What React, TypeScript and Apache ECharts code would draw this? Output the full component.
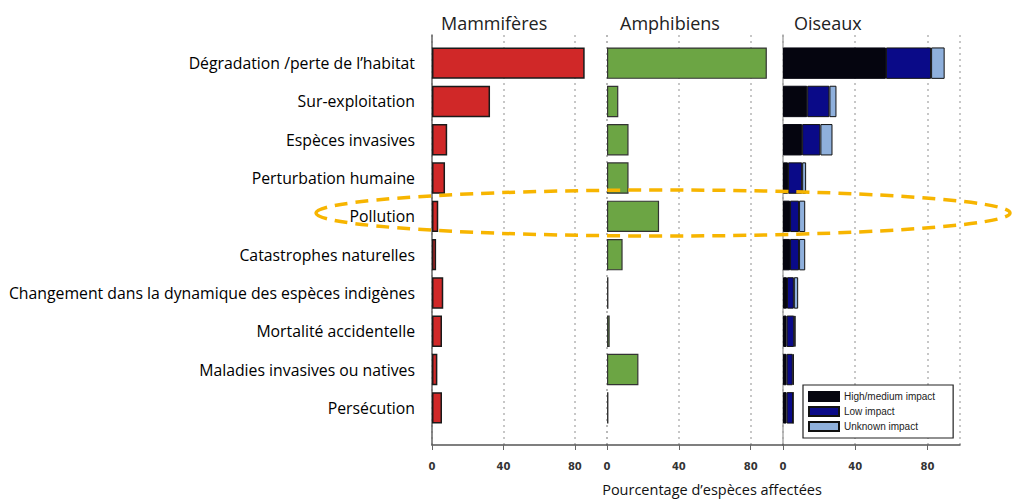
import React, { useEffect, useRef } from "react";
import * as echarts from "echarts";

const categories = [
  "Dégradation /perte de l’habitat",
  "Sur-exploitation",
  "Espèces invasives",
  "Perturbation humaine",
  "Pollution",
  "Catastrophes naturelles",
  "Changement dans la dynamique des espèces indigènes",
  "Mortalité accidentelle",
  "Maladies invasives ou natives",
  "Persécution",
];
const panelTitles = ["Mammifères", "Amphibiens", "Oiseaux"];
const mammiferes = [85.5, 32.5, 8.5, 7.3, 3.5, 2.3, 6.3, 5.6, 3, 5.6];
const amphibiens = [89, 6.3, 12, 12, 29, 8.7, 0.8, 1.5, 17.5, 0.8];
const oiseauxHigh = [57, 13.4, 10.6, 2.8, 3.9, 3.9, 2.2, 2, 2, 2];
const oiseauxLow = [25, 12.3, 10.1, 7.8, 5, 5, 3.8, 4.2, 3.4, 3.6];
const oiseauxUnknown = [7.5, 3.9, 6.7, 2.2, 3.4, 3.4, 2.4, 0.8, 0.6, 0];
const birdSeriesNames = ["High/medium impact", "Low impact", "Unknown impact"];
const xTicksMax = 98;
const xTickInterval = 40;
const axisTitle = "Pourcentage d’espèces affectées";

const FONT = "'Open Sans', sans-serif";

export default function App() {
  const ref = useRef<HTMLDivElement>(null);
  useEffect(() => {
    if (!ref.current) return;
    const chart = echarts.init(ref.current, null, { renderer: "svg" });
    const lefts = [432, 607, 783];
    const widths = [175, 176, 177];
    const grids: any[] = [];
    const xAxes: any[] = [];
    const yAxes: any[] = [];
    for (let i = 0; i < 3; i++) {
      grids.push({ left: lefts[i], width: widths[i], top: 35, height: 410 });
      xAxes.push({
        gridIndex: i,
        type: "value",
        min: 0,
        max: xTicksMax,
        interval: xTickInterval,
        axisLine: { show: true, lineStyle: { color: "#555", width: 1.5 } },
        axisTick: { show: true, length: 5, lineStyle: { color: "#666" } },
        axisLabel: {
          showMaxLabel: false,
          formatter: (v: number) => (v === xTicksMax ? "" : String(v)),
          fontSize: 10,
          fontWeight: "bold",
          color: "#333",
          margin: 16,
          fontFamily: "DejaVu Sans, sans-serif",
        },
        splitLine: {
          show: true,
          lineStyle: { color: "#b5b5b5", type: [2, 4], width: 1.5 },
        },
      });
      yAxes.push({
        gridIndex: i,
        type: "value",
        min: 0,
        max: 1,
        position: i === 2 ? "right" : "left",
        show: i !== 1,
        axisLine: {
          show: true,
          lineStyle: { color: i === 0 ? "#666" : "#aaa", width: 1.5 },
        },
        axisTick: { show: false },
        axisLabel: { show: false },
        splitLine: { show: false },
      });
    }
    for (let i = 0; i < 3; i++) {
      grids.push({ left: lefts[i], width: widths[i], top: 44, height: 383 });
      xAxes.push({
        gridIndex: 3 + i,
        type: "value",
        min: 0,
        max: xTicksMax,
        show: false,
      });
      yAxes.push({
        gridIndex: 3 + i,
        type: "category",
        inverse: true,
        data: categories,
        show: i === 0,
        axisLine: { show: false },
        axisTick: { show: false },
        splitLine: { show: false },
        axisLabel: {
          show: i === 0,
          margin: 17,
          fontSize: 15.8,
          color: "#000",
          fontFamily: FONT,
        },
      });
    }
    const border = { borderColor: "#1a1a1a", borderWidth: 1.5 };
    const option: any = {
      animation: false,
      backgroundColor: "#fff",
      title: [
        ...panelTitles.map((t, i) => ({
          text: t,
          left: [436, 615, 789][i],
          top: 9,
          textStyle: {
            fontSize: 18,
            fontWeight: "normal",
            color: "#222",
            fontFamily: "'Open Sans', sans-serif",
          },
        })),
        {
          text: axisTitle,
          left: 707,
          textAlign: "center",
          top: 477,
          textStyle: {
            fontSize: 14.5,
            fontWeight: "normal",
            color: "#111",
            fontFamily: FONT,
          },
        },
      ],
      legend: {
        data: birdSeriesNames,
        orient: "vertical",
        left: 803,
        top: 385,
        itemWidth: 30,
        itemHeight: 9,
        itemGap: 4,
        icon: "rect",
        padding: [6, 18, 6, 5],
        borderColor: "#222",
        borderWidth: 1.2,
        backgroundColor: "#fff",
        textStyle: { fontSize: 10, color: "#222", fontFamily: "Liberation Sans, sans-serif" },
        z: 20,
      },
      grid: grids,
      xAxis: xAxes,
      yAxis: yAxes,
      series: [
        {
          type: "bar",
          name: "Mammifères",
          xAxisIndex: 3,
          yAxisIndex: 3,
          data: mammiferes,
          barCategoryGap: "18%",
          itemStyle: { color: "#d02828", ...border },
        },
        {
          type: "bar",
          name: "Amphibiens",
          xAxisIndex: 4,
          yAxisIndex: 4,
          data: amphibiens,
          barCategoryGap: "18%",
          itemStyle: { color: "#6ca544", borderColor: "#333", borderWidth: 1.2 },
        },
        {
          type: "bar",
          name: birdSeriesNames[0],
          xAxisIndex: 5,
          yAxisIndex: 5,
          stack: "o",
          data: oiseauxHigh,
          barCategoryGap: "18%",
          itemStyle: { color: "#05050f", borderColor: "#05050f", borderWidth: 1 },
        },
        {
          type: "bar",
          name: birdSeriesNames[1],
          xAxisIndex: 5,
          yAxisIndex: 5,
          stack: "o",
          data: oiseauxLow,
          barCategoryGap: "18%",
          itemStyle: { color: "#0a0a88", borderColor: "#111", borderWidth: 1 },
        },
        {
          type: "bar",
          name: birdSeriesNames[2],
          xAxisIndex: 5,
          yAxisIndex: 5,
          stack: "o",
          data: oiseauxUnknown,
          barCategoryGap: "18%",
          itemStyle: { color: "#8fb0dc", borderColor: "#111", borderWidth: 1 },
        },
      ],
      graphic: [
        {
          type: "ellipse",
          shape: { cx: 663, cy: 213, rx: 347, ry: 23 },
          style: {
            fill: "none",
            stroke: "#f7b500",
            lineWidth: 3.5,
            lineDash: [13, 8],
          },
          z: 100,
        },
      ],
    };
    chart.setOption(option);
    return () => chart.dispose();
  }, []);
  return (
    <div
      ref={ref}
      style={{ position: "absolute", left: 0, top: 0, width: 1013, height: 500 }}
    />
  );
}
